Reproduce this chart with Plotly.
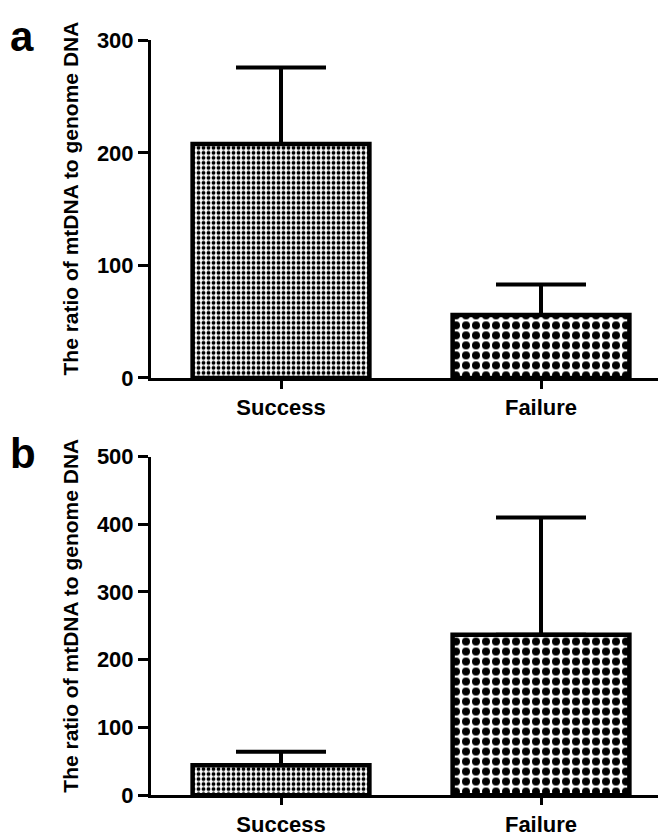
import plotly.graph_objects as go

categories = ["Success", "Failure"]
a_means = [208, 56]
a_err = [68, 27]
b_means = [44, 237]
b_err = [20, 173]
a_ticks = [0, 100, 200, 300]
b_ticks = [0, 100, 200, 300, 400, 500]
ytitle = "The ratio of mtDNA to genome DNA"

W, H = 666, 837
FONT = "Liberation Sans"

def px(xp):
    return xp / W

def py(yp):
    return 1 - yp / H

pat = dict(shape=[".", "."], size=[5, 10], solidity=[0.45, 0.5],
           fgcolor="black", bgcolor="white", fillmode="replace")

fig = go.Figure()
for i, (means, errs) in enumerate([(a_means, a_err), (b_means, b_err)]):
    suffix = "" if i == 0 else str(i + 1)
    fig.add_trace(go.Bar(
        x=categories, y=means,
        xaxis="x" + suffix, yaxis="y" + suffix,
        width=0.68,
        marker=dict(color="white", line=dict(color="black", width=4.5), pattern=pat),
        error_y=dict(type="data", array=errs, arrayminus=[0, 0], symmetric=False,
                     color="black", thickness=4, width=45),
        showlegend=False,
    ))

axis_common = dict(showgrid=False, zeroline=False, showline=True, linecolor="black",
                   linewidth=3, ticks="outside", tickwidth=3, tickcolor="black")
yfont = dict(family=FONT, size=22, color="black", weight="bold")
xfont = dict(family=FONT, size=22, color="black", weight="bold")

fig.update_layout(
    width=W, height=H,
    margin=dict(l=0, r=0, t=0, b=0),
    paper_bgcolor="white", plot_bgcolor="white",
    xaxis=dict(domain=[px(143), px(663)], anchor="y", range=[-0.5, 1.5], tickfont=xfont,
               ticklen=8, **axis_common),
    yaxis=dict(domain=[py(369), py(21)], anchor="x", range=[0, 300], tickvals=a_ticks, tickfont=yfont,
               ticklen=10, **axis_common),
    xaxis2=dict(domain=[px(143), px(663)], anchor="y2", range=[-0.5, 1.5], tickfont=xfont,
                ticklen=7, **axis_common),
    yaxis2=dict(domain=[py(799), py(450)], anchor="x2", range=[0, 500], tickvals=b_ticks, tickfont=yfont,
                ticklen=10, **axis_common),
    annotations=[
        dict(text="a", x=px(0), y=py(17), xref="paper", yref="paper", xanchor="left", yanchor="middle",
             showarrow=False, font=dict(family=FONT, size=42, color="black", weight="bold")),
        dict(text="b", x=px(0), y=py(447), xref="paper", yref="paper", xanchor="left", yanchor="middle",
             showarrow=False, font=dict(family=FONT, size=42, color="black", weight="bold")),
        dict(text=ytitle, x=px(63), y=py(184), xref="paper", yref="paper", xanchor="center", yanchor="middle",
             textangle=-90, showarrow=False, font=dict(family=FONT, size=21, color="black", weight="bold")),
        dict(text=ytitle, x=px(63), y=py(614), xref="paper", yref="paper", xanchor="center", yanchor="middle",
             textangle=-90, showarrow=False, font=dict(family=FONT, size=21, color="black", weight="bold")),
    ],
)

fig.write_html("out.html")
